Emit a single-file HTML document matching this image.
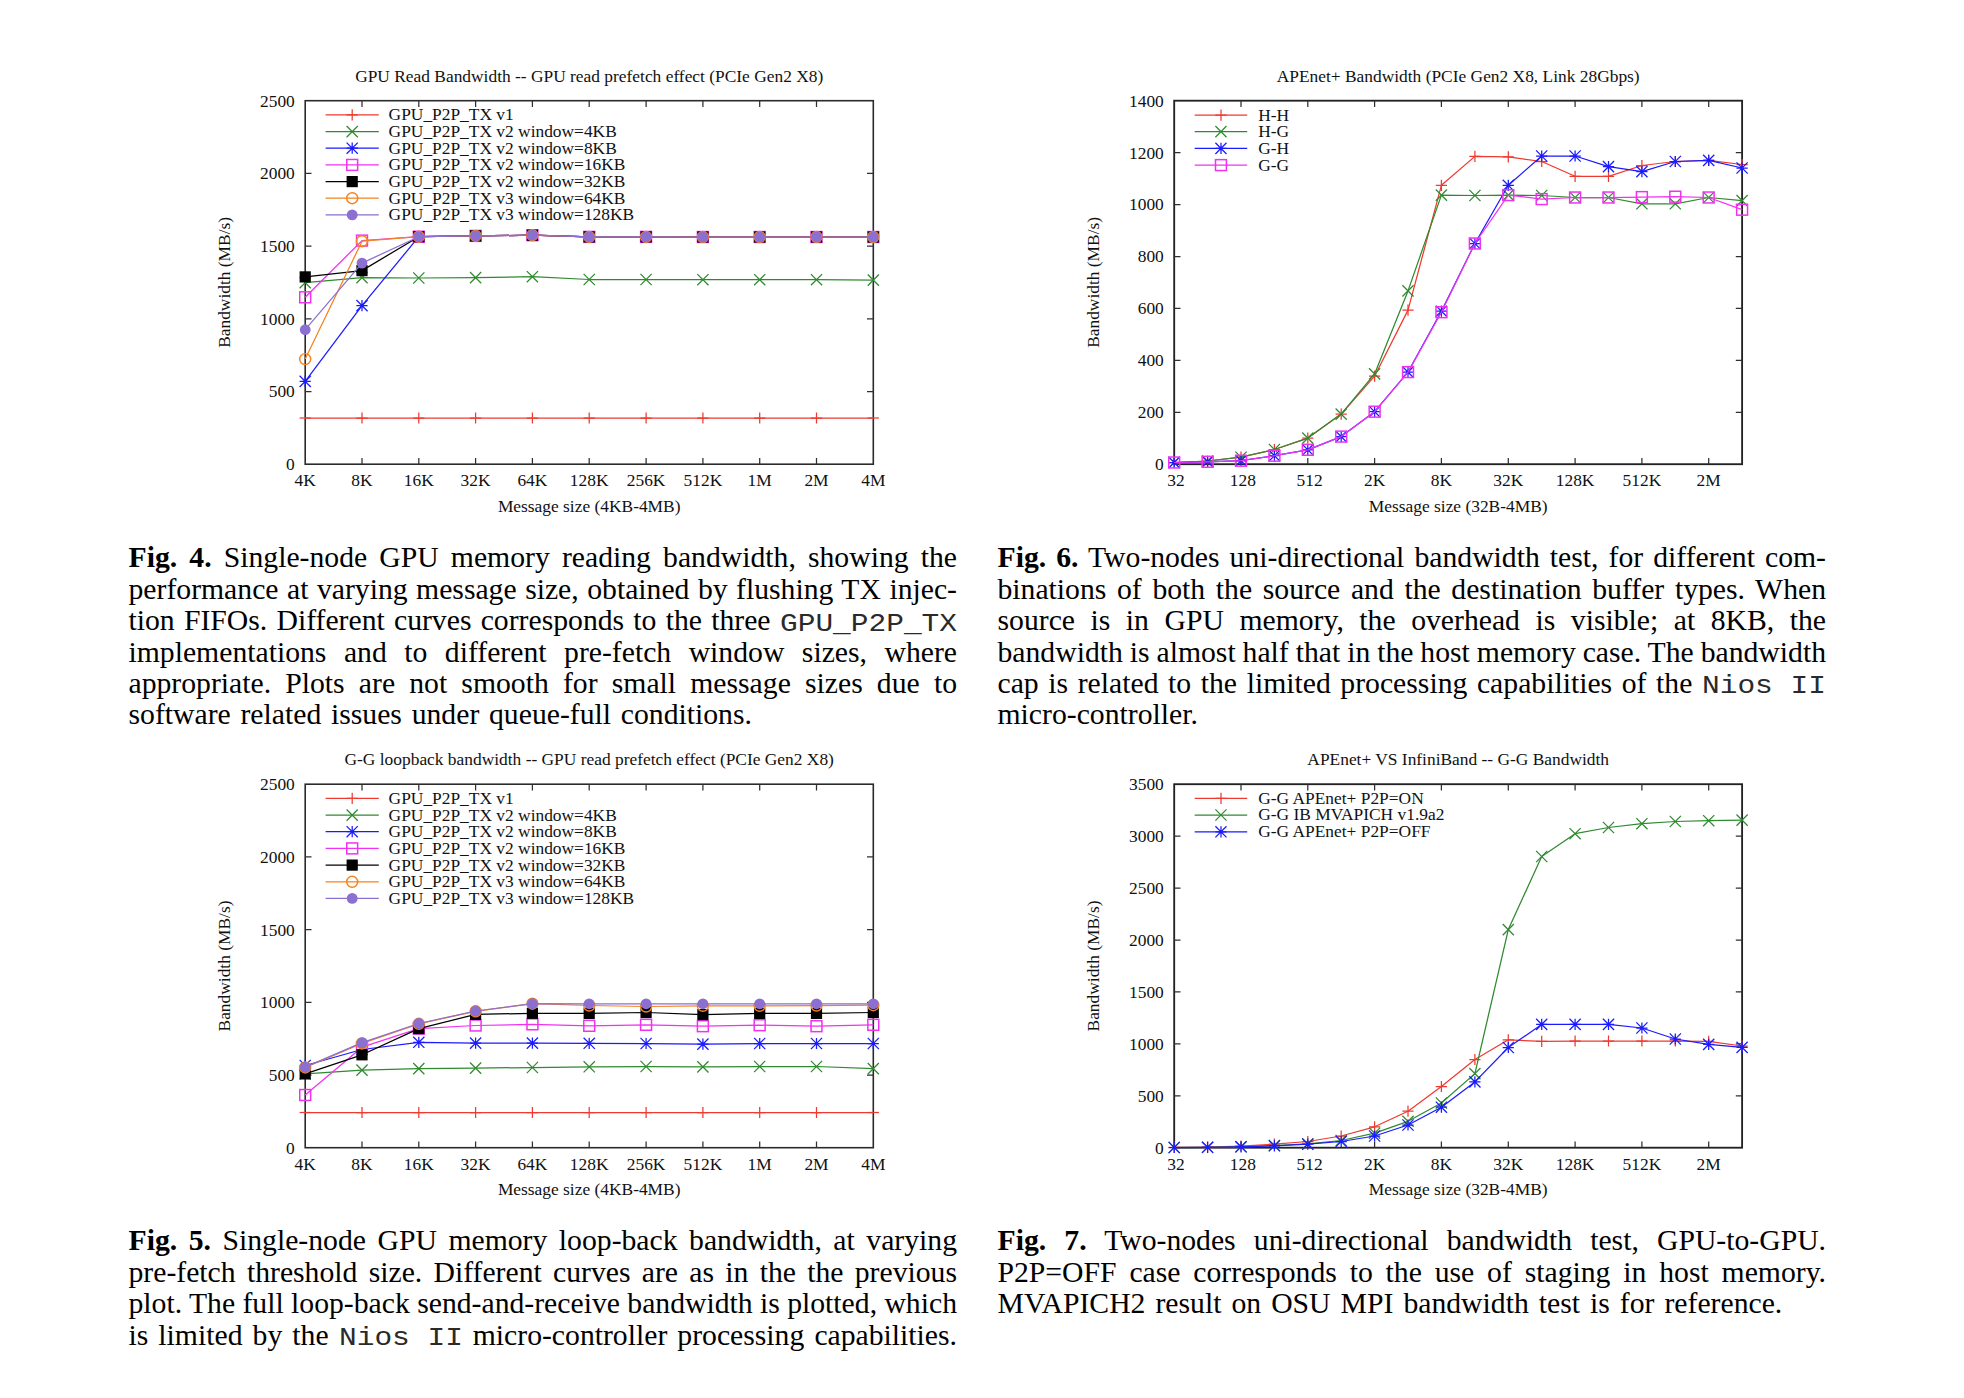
<!DOCTYPE html><html><head><meta charset="utf-8"><title>Figures</title><style>
html,body{margin:0;padding:0;background:#fff}
body{width:1964px;height:1398px;position:relative;overflow:hidden;font-family:"Liberation Serif",serif;color:#000}
.ln{position:absolute;height:31.44px;line-height:31.44px;font-size:29.7px;white-space:nowrap}
.ln tt{font-family:"Liberation Mono",monospace;font-size:25px;display:inline-block;transform:scaleX(1.18);transform-origin:0 50%;color:#2a2a2a;word-spacing:0;line-height:1;position:relative;top:0.5px}
.ln tt.a{margin-right:27.2px}
.ln tt.b{margin-right:19px}

</style></head><body>
<svg width="1964" height="1398" viewBox="0 0 1964 1398" style="position:absolute;left:0;top:0" font-family="'Liberation Serif',serif" fill="#111">
<rect x="305.2" y="100.7" width="568.0999999999999" height="363.5" fill="none" stroke="#2b2b2b" stroke-width="1.6"/>
<path d="M362.0 464.2v-6.3M362.0 100.7v6.3M418.8 464.2v-6.3M418.8 100.7v6.3M475.6 464.2v-6.3M475.6 100.7v6.3M532.4 464.2v-6.3M532.4 100.7v6.3M589.2 464.2v-6.3M589.2 100.7v6.3M646.1 464.2v-6.3M646.1 100.7v6.3M702.9 464.2v-6.3M702.9 100.7v6.3M759.7 464.2v-6.3M759.7 100.7v6.3M816.5 464.2v-6.3M816.5 100.7v6.3M305.2 391.5h6.3M873.3 391.5h-6.3M305.2 318.8h6.3M873.3 318.8h-6.3M305.2 246.1h6.3M873.3 246.1h-6.3M305.2 173.4h6.3M873.3 173.4h-6.3" stroke="#303030" stroke-width="1.25" fill="none"/>
<text x="305.2" y="486.4" text-anchor="middle" font-size="17.4" >4K</text>
<text x="362.0" y="486.4" text-anchor="middle" font-size="17.4" >8K</text>
<text x="418.8" y="486.4" text-anchor="middle" font-size="17.4" >16K</text>
<text x="475.6" y="486.4" text-anchor="middle" font-size="17.4" >32K</text>
<text x="532.4" y="486.4" text-anchor="middle" font-size="17.4" >64K</text>
<text x="589.2" y="486.4" text-anchor="middle" font-size="17.4" >128K</text>
<text x="646.1" y="486.4" text-anchor="middle" font-size="17.4" >256K</text>
<text x="702.9" y="486.4" text-anchor="middle" font-size="17.4" >512K</text>
<text x="759.7" y="486.4" text-anchor="middle" font-size="17.4" >1M</text>
<text x="816.5" y="486.4" text-anchor="middle" font-size="17.4" >2M</text>
<text x="873.3" y="486.4" text-anchor="middle" font-size="17.4" >4M</text>
<text x="294.8" y="470.1" text-anchor="end" font-size="17.4" >0</text>
<text x="294.8" y="397.4" text-anchor="end" font-size="17.4" >500</text>
<text x="294.8" y="324.6" text-anchor="end" font-size="17.4" >1000</text>
<text x="294.8" y="251.9" text-anchor="end" font-size="17.4" >1500</text>
<text x="294.8" y="179.2" text-anchor="end" font-size="17.4" >2000</text>
<text x="294.8" y="106.5" text-anchor="end" font-size="17.4" >2500</text>
<text x="589.2" y="81.7" text-anchor="middle" font-size="17.4" >GPU Read Bandwidth -- GPU read prefetch effect (PCIe Gen2 X8)</text>
<text x="589.2" y="511.7" text-anchor="middle" font-size="17.4" >Message size (4KB-4MB)</text>
<text transform="translate(229.5,282.4) rotate(-90)" text-anchor="middle" font-size="17.4">Bandwidth (MB/s)</text>
<polyline points="305.2,418.0 362.0,418.0 418.8,418.0 475.6,418.0 532.4,418.0 589.2,418.0 646.1,418.0 702.9,418.0 759.7,418.0 816.5,418.0 873.3,418.0" fill="none" stroke="#ee3a30" stroke-width="1.25" stroke-linejoin="round"/>
<path d="M299.6 418.0H310.8" stroke="#ee3a30" stroke-width="1.25" fill="none"/>
<path d="M356.4 418.0H367.6M362.0 412.4V423.6" stroke="#ee3a30" stroke-width="1.25" fill="none"/>
<path d="M413.2 418.0H424.4M418.8 412.4V423.6" stroke="#ee3a30" stroke-width="1.25" fill="none"/>
<path d="M470.0 418.0H481.2M475.6 412.4V423.6" stroke="#ee3a30" stroke-width="1.25" fill="none"/>
<path d="M526.8 418.0H538.0M532.4 412.4V423.6" stroke="#ee3a30" stroke-width="1.25" fill="none"/>
<path d="M583.6 418.0H594.9M589.2 412.4V423.6" stroke="#ee3a30" stroke-width="1.25" fill="none"/>
<path d="M640.5 418.0H651.7M646.1 412.4V423.6" stroke="#ee3a30" stroke-width="1.25" fill="none"/>
<path d="M697.3 418.0H708.5M702.9 412.4V423.6" stroke="#ee3a30" stroke-width="1.25" fill="none"/>
<path d="M754.1 418.0H765.3M759.7 412.4V423.6" stroke="#ee3a30" stroke-width="1.25" fill="none"/>
<path d="M810.9 418.0H822.1M816.5 412.4V423.6" stroke="#ee3a30" stroke-width="1.25" fill="none"/>
<path d="M867.7 418.0H878.9" stroke="#ee3a30" stroke-width="1.25" fill="none"/>
<polyline points="305.2,282.7 362.0,277.6 418.8,278.0 475.6,277.6 532.4,276.7 589.2,279.5 646.1,279.5 702.9,279.7 759.7,279.7 816.5,279.7 873.3,280.1" fill="none" stroke="#2f8a2f" stroke-width="1.25" stroke-linejoin="round"/>
<path d="M299.6 277.1L310.8 288.3M299.6 288.3L310.8 277.1" stroke="#2f8a2f" stroke-width="1.25" fill="none"/>
<path d="M356.4 272.0L367.6 283.2M356.4 283.2L367.6 272.0" stroke="#2f8a2f" stroke-width="1.25" fill="none"/>
<path d="M413.2 272.4L424.4 283.6M413.2 283.6L424.4 272.4" stroke="#2f8a2f" stroke-width="1.25" fill="none"/>
<path d="M470.0 272.0L481.2 283.2M470.0 283.2L481.2 272.0" stroke="#2f8a2f" stroke-width="1.25" fill="none"/>
<path d="M526.8 271.1L538.0 282.3M526.8 282.3L538.0 271.1" stroke="#2f8a2f" stroke-width="1.25" fill="none"/>
<path d="M583.6 273.9L594.9 285.1M583.6 285.1L594.9 273.9" stroke="#2f8a2f" stroke-width="1.25" fill="none"/>
<path d="M640.5 273.9L651.7 285.1M640.5 285.1L651.7 273.9" stroke="#2f8a2f" stroke-width="1.25" fill="none"/>
<path d="M697.3 274.1L708.5 285.3M697.3 285.3L708.5 274.1" stroke="#2f8a2f" stroke-width="1.25" fill="none"/>
<path d="M754.1 274.1L765.3 285.3M754.1 285.3L765.3 274.1" stroke="#2f8a2f" stroke-width="1.25" fill="none"/>
<path d="M810.9 274.1L822.1 285.3M810.9 285.3L822.1 274.1" stroke="#2f8a2f" stroke-width="1.25" fill="none"/>
<path d="M867.7 274.5L878.9 285.7M867.7 285.7L878.9 274.5" stroke="#2f8a2f" stroke-width="1.25" fill="none"/>
<polyline points="305.2,381.4 362.0,305.6 418.8,236.7 475.6,235.9 532.4,235.2 589.2,236.9 646.1,236.9 702.9,237.0 759.7,237.0 816.5,237.0 873.3,237.0" fill="none" stroke="#1a1aff" stroke-width="1.25" stroke-linejoin="round"/>
<path d="M299.6 381.4H310.8M305.2 375.8V387.0M299.6 375.8L310.8 387.0M299.6 387.0L310.8 375.8" stroke="#1a1aff" stroke-width="1.25" fill="none"/>
<path d="M356.4 305.6H367.6M362.0 300.0V311.2M356.4 300.0L367.6 311.2M356.4 311.2L367.6 300.0" stroke="#1a1aff" stroke-width="1.25" fill="none"/>
<path d="M413.2 236.7H424.4M418.8 231.1V242.3M413.2 231.1L424.4 242.3M413.2 242.3L424.4 231.1" stroke="#1a1aff" stroke-width="1.25" fill="none"/>
<path d="M470.0 235.9H481.2M475.6 230.3V241.5M470.0 230.3L481.2 241.5M470.0 241.5L481.2 230.3" stroke="#1a1aff" stroke-width="1.25" fill="none"/>
<path d="M526.8 235.2H538.0M532.4 229.6V240.8M526.8 229.6L538.0 240.8M526.8 240.8L538.0 229.6" stroke="#1a1aff" stroke-width="1.25" fill="none"/>
<path d="M583.6 236.9H594.9M589.2 231.3V242.5M583.6 231.3L594.9 242.5M583.6 242.5L594.9 231.3" stroke="#1a1aff" stroke-width="1.25" fill="none"/>
<path d="M640.5 236.9H651.7M646.1 231.3V242.5M640.5 231.3L651.7 242.5M640.5 242.5L651.7 231.3" stroke="#1a1aff" stroke-width="1.25" fill="none"/>
<path d="M697.3 237.0H708.5M702.9 231.4V242.6M697.3 231.4L708.5 242.6M697.3 242.6L708.5 231.4" stroke="#1a1aff" stroke-width="1.25" fill="none"/>
<path d="M754.1 237.0H765.3M759.7 231.4V242.6M754.1 231.4L765.3 242.6M754.1 242.6L765.3 231.4" stroke="#1a1aff" stroke-width="1.25" fill="none"/>
<path d="M810.9 237.0H822.1M816.5 231.4V242.6M810.9 231.4L822.1 242.6M810.9 242.6L822.1 231.4" stroke="#1a1aff" stroke-width="1.25" fill="none"/>
<path d="M867.7 237.0H878.9M873.3 231.4V242.6M867.7 231.4L878.9 242.6M867.7 242.6L878.9 231.4" stroke="#1a1aff" stroke-width="1.25" fill="none"/>
<polyline points="305.2,297.3 362.0,240.6 418.8,236.7 475.6,235.9 532.4,235.2 589.2,236.9 646.1,236.9 702.9,237.0 759.7,237.0 816.5,237.0 873.3,237.0" fill="none" stroke="#f032f0" stroke-width="1.25" stroke-linejoin="round"/>
<rect x="299.75" y="291.85" width="10.9" height="10.9" stroke="#f032f0" stroke-width="1.5" fill="none"/>
<rect x="356.56" y="235.15" width="10.9" height="10.9" stroke="#f032f0" stroke-width="1.5" fill="none"/>
<rect x="413.37" y="231.25" width="10.9" height="10.9" stroke="#f032f0" stroke-width="1.5" fill="none"/>
<rect x="470.18" y="230.45" width="10.9" height="10.9" stroke="#f032f0" stroke-width="1.5" fill="none"/>
<rect x="526.99" y="229.75" width="10.9" height="10.9" stroke="#f032f0" stroke-width="1.5" fill="none"/>
<rect x="583.80" y="231.45" width="10.9" height="10.9" stroke="#f032f0" stroke-width="1.5" fill="none"/>
<rect x="640.61" y="231.45" width="10.9" height="10.9" stroke="#f032f0" stroke-width="1.5" fill="none"/>
<rect x="697.42" y="231.55" width="10.9" height="10.9" stroke="#f032f0" stroke-width="1.5" fill="none"/>
<rect x="754.23" y="231.55" width="10.9" height="10.9" stroke="#f032f0" stroke-width="1.5" fill="none"/>
<rect x="811.04" y="231.55" width="10.9" height="10.9" stroke="#f032f0" stroke-width="1.5" fill="none"/>
<rect x="867.85" y="231.55" width="10.9" height="10.9" stroke="#f032f0" stroke-width="1.5" fill="none"/>
<polyline points="305.2,276.9 362.0,270.6 418.8,236.7 475.6,235.9 532.4,235.2 589.2,236.9 646.1,236.9 702.9,237.0 759.7,237.0 816.5,237.0 873.3,237.0" fill="none" stroke="#000000" stroke-width="1.25" stroke-linejoin="round"/>
<rect x="299.6" y="271.3" width="11.2" height="11.2" fill="#000000"/>
<rect x="356.4" y="265.0" width="11.2" height="11.2" fill="#000000"/>
<rect x="413.2" y="231.1" width="11.2" height="11.2" fill="#000000"/>
<rect x="470.0" y="230.3" width="11.2" height="11.2" fill="#000000"/>
<rect x="526.8" y="229.6" width="11.2" height="11.2" fill="#000000"/>
<rect x="583.6" y="231.3" width="11.2" height="11.2" fill="#000000"/>
<rect x="640.5" y="231.3" width="11.2" height="11.2" fill="#000000"/>
<rect x="697.3" y="231.4" width="11.2" height="11.2" fill="#000000"/>
<rect x="754.1" y="231.4" width="11.2" height="11.2" fill="#000000"/>
<rect x="810.9" y="231.4" width="11.2" height="11.2" fill="#000000"/>
<rect x="867.7" y="231.4" width="11.2" height="11.2" fill="#000000"/>
<polyline points="305.2,359.1 362.0,241.2 418.8,236.7 475.6,235.9 532.4,235.2 589.2,236.9 646.1,236.9 702.9,237.0 759.7,237.0 816.5,237.0 873.3,237.0" fill="none" stroke="#f5821f" stroke-width="1.25" stroke-linejoin="round"/>
<circle cx="305.2" cy="359.1" r="5.5" stroke="#f5821f" stroke-width="1.45" fill="none"/>
<circle cx="362.0" cy="241.2" r="5.5" stroke="#f5821f" stroke-width="1.45" fill="none"/>
<circle cx="418.8" cy="236.7" r="5.5" stroke="#f5821f" stroke-width="1.45" fill="none"/>
<circle cx="475.6" cy="235.9" r="5.5" stroke="#f5821f" stroke-width="1.45" fill="none"/>
<circle cx="532.4" cy="235.2" r="5.5" stroke="#f5821f" stroke-width="1.45" fill="none"/>
<circle cx="589.2" cy="236.9" r="5.5" stroke="#f5821f" stroke-width="1.45" fill="none"/>
<circle cx="646.1" cy="236.9" r="5.5" stroke="#f5821f" stroke-width="1.45" fill="none"/>
<circle cx="702.9" cy="237.0" r="5.5" stroke="#f5821f" stroke-width="1.45" fill="none"/>
<circle cx="759.7" cy="237.0" r="5.5" stroke="#f5821f" stroke-width="1.45" fill="none"/>
<circle cx="816.5" cy="237.0" r="5.5" stroke="#f5821f" stroke-width="1.45" fill="none"/>
<circle cx="873.3" cy="237.0" r="5.5" stroke="#f5821f" stroke-width="1.45" fill="none"/>
<polyline points="305.2,329.7 362.0,263.1 418.8,236.7 475.6,235.9 532.4,235.2 589.2,236.9 646.1,236.9 702.9,237.0 759.7,237.0 816.5,237.0 873.3,237.0" fill="none" stroke="#8b6fd1" stroke-width="1.25" stroke-linejoin="round"/>
<circle cx="305.2" cy="329.7" r="5.4" fill="#8b6fd1"/>
<circle cx="362.0" cy="263.1" r="5.4" fill="#8b6fd1"/>
<circle cx="418.8" cy="236.7" r="5.4" fill="#8b6fd1"/>
<circle cx="475.6" cy="235.9" r="5.4" fill="#8b6fd1"/>
<circle cx="532.4" cy="235.2" r="5.4" fill="#8b6fd1"/>
<circle cx="589.2" cy="236.9" r="5.4" fill="#8b6fd1"/>
<circle cx="646.1" cy="236.9" r="5.4" fill="#8b6fd1"/>
<circle cx="702.9" cy="237.0" r="5.4" fill="#8b6fd1"/>
<circle cx="759.7" cy="237.0" r="5.4" fill="#8b6fd1"/>
<circle cx="816.5" cy="237.0" r="5.4" fill="#8b6fd1"/>
<circle cx="873.3" cy="237.0" r="5.4" fill="#8b6fd1"/>
<path d="M325.6 114.9H378.8" stroke="#ee3a30" stroke-width="1.25"/>
<path d="M346.6 114.9H357.8M352.2 109.3V120.5" stroke="#ee3a30" stroke-width="1.25" fill="none"/>
<text x="388.6" y="120.3" text-anchor="start" font-size="17.4" >GPU_P2P_TX v1</text>
<path d="M325.6 131.6H378.8" stroke="#2f8a2f" stroke-width="1.25"/>
<path d="M346.6 126.0L357.8 137.2M346.6 137.2L357.8 126.0" stroke="#2f8a2f" stroke-width="1.25" fill="none"/>
<text x="388.6" y="137.0" text-anchor="start" font-size="17.4" >GPU_P2P_TX v2 window=4KB</text>
<path d="M325.6 148.2H378.8" stroke="#1a1aff" stroke-width="1.25"/>
<path d="M346.6 148.2H357.8M352.2 142.6V153.8M346.6 142.6L357.8 153.8M346.6 153.8L357.8 142.6" stroke="#1a1aff" stroke-width="1.25" fill="none"/>
<text x="388.6" y="153.6" text-anchor="start" font-size="17.4" >GPU_P2P_TX v2 window=8KB</text>
<path d="M325.6 164.9H378.8" stroke="#f032f0" stroke-width="1.25"/>
<rect x="346.75" y="159.46" width="10.9" height="10.9" stroke="#f032f0" stroke-width="1.5" fill="none"/>
<text x="388.6" y="170.3" text-anchor="start" font-size="17.4" >GPU_P2P_TX v2 window=16KB</text>
<path d="M325.6 181.6H378.8" stroke="#000000" stroke-width="1.25"/>
<rect x="346.6" y="176.0" width="11.2" height="11.2" fill="#000000"/>
<text x="388.6" y="187.0" text-anchor="start" font-size="17.4" >GPU_P2P_TX v2 window=32KB</text>
<path d="M325.6 198.2H378.8" stroke="#f5821f" stroke-width="1.25"/>
<circle cx="352.2" cy="198.2" r="5.5" stroke="#f5821f" stroke-width="1.45" fill="none"/>
<text x="388.6" y="203.7" text-anchor="start" font-size="17.4" >GPU_P2P_TX v3 window=64KB</text>
<path d="M325.6 214.9H378.8" stroke="#8b6fd1" stroke-width="1.25"/>
<circle cx="352.2" cy="214.9" r="5.4" fill="#8b6fd1"/>
<text x="388.6" y="220.3" text-anchor="start" font-size="17.4" >GPU_P2P_TX v3 window=128KB</text>
<rect x="305.2" y="784.2" width="568.0999999999999" height="363.5" fill="none" stroke="#2b2b2b" stroke-width="1.6"/>
<path d="M362.0 1147.7v-6.3M362.0 784.2v6.3M418.8 1147.7v-6.3M418.8 784.2v6.3M475.6 1147.7v-6.3M475.6 784.2v6.3M532.4 1147.7v-6.3M532.4 784.2v6.3M589.2 1147.7v-6.3M589.2 784.2v6.3M646.1 1147.7v-6.3M646.1 784.2v6.3M702.9 1147.7v-6.3M702.9 784.2v6.3M759.7 1147.7v-6.3M759.7 784.2v6.3M816.5 1147.7v-6.3M816.5 784.2v6.3M305.2 1075.0h6.3M873.3 1075.0h-6.3M305.2 1002.3h6.3M873.3 1002.3h-6.3M305.2 929.6h6.3M873.3 929.6h-6.3M305.2 856.9h6.3M873.3 856.9h-6.3" stroke="#303030" stroke-width="1.25" fill="none"/>
<text x="305.2" y="1169.9" text-anchor="middle" font-size="17.4" >4K</text>
<text x="362.0" y="1169.9" text-anchor="middle" font-size="17.4" >8K</text>
<text x="418.8" y="1169.9" text-anchor="middle" font-size="17.4" >16K</text>
<text x="475.6" y="1169.9" text-anchor="middle" font-size="17.4" >32K</text>
<text x="532.4" y="1169.9" text-anchor="middle" font-size="17.4" >64K</text>
<text x="589.2" y="1169.9" text-anchor="middle" font-size="17.4" >128K</text>
<text x="646.1" y="1169.9" text-anchor="middle" font-size="17.4" >256K</text>
<text x="702.9" y="1169.9" text-anchor="middle" font-size="17.4" >512K</text>
<text x="759.7" y="1169.9" text-anchor="middle" font-size="17.4" >1M</text>
<text x="816.5" y="1169.9" text-anchor="middle" font-size="17.4" >2M</text>
<text x="873.3" y="1169.9" text-anchor="middle" font-size="17.4" >4M</text>
<text x="294.8" y="1153.5" text-anchor="end" font-size="17.4" >0</text>
<text x="294.8" y="1080.8" text-anchor="end" font-size="17.4" >500</text>
<text x="294.8" y="1008.2" text-anchor="end" font-size="17.4" >1000</text>
<text x="294.8" y="935.5" text-anchor="end" font-size="17.4" >1500</text>
<text x="294.8" y="862.8" text-anchor="end" font-size="17.4" >2000</text>
<text x="294.8" y="790.1" text-anchor="end" font-size="17.4" >2500</text>
<text x="589.2" y="765.2" text-anchor="middle" font-size="17.4" >G-G loopback bandwidth -- GPU read prefetch effect (PCIe Gen2 X8)</text>
<text x="589.2" y="1195.2" text-anchor="middle" font-size="17.4" >Message size (4KB-4MB)</text>
<text transform="translate(229.5,966.0) rotate(-90)" text-anchor="middle" font-size="17.4">Bandwidth (MB/s)</text>
<polyline points="305.2,1112.5 362.0,1112.5 418.8,1112.5 475.6,1112.5 532.4,1112.5 589.2,1112.5 646.1,1112.5 702.9,1112.5 759.7,1112.5 816.5,1112.5 873.3,1112.5" fill="none" stroke="#ee3a30" stroke-width="1.25" stroke-linejoin="round"/>
<path d="M299.6 1112.5H310.8" stroke="#ee3a30" stroke-width="1.25" fill="none"/>
<path d="M356.4 1112.5H367.6M362.0 1106.9V1118.1" stroke="#ee3a30" stroke-width="1.25" fill="none"/>
<path d="M413.2 1112.5H424.4M418.8 1106.9V1118.1" stroke="#ee3a30" stroke-width="1.25" fill="none"/>
<path d="M470.0 1112.5H481.2M475.6 1106.9V1118.1" stroke="#ee3a30" stroke-width="1.25" fill="none"/>
<path d="M526.8 1112.5H538.0M532.4 1106.9V1118.1" stroke="#ee3a30" stroke-width="1.25" fill="none"/>
<path d="M583.6 1112.5H594.9M589.2 1106.9V1118.1" stroke="#ee3a30" stroke-width="1.25" fill="none"/>
<path d="M640.5 1112.5H651.7M646.1 1106.9V1118.1" stroke="#ee3a30" stroke-width="1.25" fill="none"/>
<path d="M697.3 1112.5H708.5M702.9 1106.9V1118.1" stroke="#ee3a30" stroke-width="1.25" fill="none"/>
<path d="M754.1 1112.5H765.3M759.7 1106.9V1118.1" stroke="#ee3a30" stroke-width="1.25" fill="none"/>
<path d="M810.9 1112.5H822.1M816.5 1106.9V1118.1" stroke="#ee3a30" stroke-width="1.25" fill="none"/>
<path d="M867.7 1112.5H878.9" stroke="#ee3a30" stroke-width="1.25" fill="none"/>
<polyline points="305.2,1073.9 362.0,1070.1 418.8,1068.6 475.6,1068.1 532.4,1067.5 589.2,1066.8 646.1,1066.5 702.9,1066.9 759.7,1066.5 816.5,1066.5 873.3,1068.6" fill="none" stroke="#2f8a2f" stroke-width="1.25" stroke-linejoin="round"/>
<path d="M299.6 1068.3L310.8 1079.5M299.6 1079.5L310.8 1068.3" stroke="#2f8a2f" stroke-width="1.25" fill="none"/>
<path d="M356.4 1064.5L367.6 1075.7M356.4 1075.7L367.6 1064.5" stroke="#2f8a2f" stroke-width="1.25" fill="none"/>
<path d="M413.2 1063.0L424.4 1074.2M413.2 1074.2L424.4 1063.0" stroke="#2f8a2f" stroke-width="1.25" fill="none"/>
<path d="M470.0 1062.5L481.2 1073.7M470.0 1073.7L481.2 1062.5" stroke="#2f8a2f" stroke-width="1.25" fill="none"/>
<path d="M526.8 1061.9L538.0 1073.1M526.8 1073.1L538.0 1061.9" stroke="#2f8a2f" stroke-width="1.25" fill="none"/>
<path d="M583.6 1061.2L594.9 1072.4M583.6 1072.4L594.9 1061.2" stroke="#2f8a2f" stroke-width="1.25" fill="none"/>
<path d="M640.5 1060.9L651.7 1072.1M640.5 1072.1L651.7 1060.9" stroke="#2f8a2f" stroke-width="1.25" fill="none"/>
<path d="M697.3 1061.3L708.5 1072.5M697.3 1072.5L708.5 1061.3" stroke="#2f8a2f" stroke-width="1.25" fill="none"/>
<path d="M754.1 1060.9L765.3 1072.1M754.1 1072.1L765.3 1060.9" stroke="#2f8a2f" stroke-width="1.25" fill="none"/>
<path d="M810.9 1060.9L822.1 1072.1M810.9 1072.1L822.1 1060.9" stroke="#2f8a2f" stroke-width="1.25" fill="none"/>
<path d="M867.7 1063.0L878.9 1074.2M867.7 1074.2L878.9 1063.0" stroke="#2f8a2f" stroke-width="1.25" fill="none"/>
<polyline points="305.2,1065.5 362.0,1049.5 418.8,1042.3 475.6,1043.1 532.4,1043.1 589.2,1043.3 646.1,1043.5 702.9,1044.1 759.7,1043.5 816.5,1043.5 873.3,1043.5" fill="none" stroke="#1a1aff" stroke-width="1.25" stroke-linejoin="round"/>
<path d="M299.6 1065.5H310.8M305.2 1059.9V1071.1M299.6 1059.9L310.8 1071.1M299.6 1071.1L310.8 1059.9" stroke="#1a1aff" stroke-width="1.25" fill="none"/>
<path d="M356.4 1049.5H367.6M362.0 1043.9V1055.1M356.4 1043.9L367.6 1055.1M356.4 1055.1L367.6 1043.9" stroke="#1a1aff" stroke-width="1.25" fill="none"/>
<path d="M413.2 1042.3H424.4M418.8 1036.7V1047.9M413.2 1036.7L424.4 1047.9M413.2 1047.9L424.4 1036.7" stroke="#1a1aff" stroke-width="1.25" fill="none"/>
<path d="M470.0 1043.1H481.2M475.6 1037.5V1048.7M470.0 1037.5L481.2 1048.7M470.0 1048.7L481.2 1037.5" stroke="#1a1aff" stroke-width="1.25" fill="none"/>
<path d="M526.8 1043.1H538.0M532.4 1037.5V1048.7M526.8 1037.5L538.0 1048.7M526.8 1048.7L538.0 1037.5" stroke="#1a1aff" stroke-width="1.25" fill="none"/>
<path d="M583.6 1043.3H594.9M589.2 1037.7V1048.9M583.6 1037.7L594.9 1048.9M583.6 1048.9L594.9 1037.7" stroke="#1a1aff" stroke-width="1.25" fill="none"/>
<path d="M640.5 1043.5H651.7M646.1 1037.9V1049.1M640.5 1037.9L651.7 1049.1M640.5 1049.1L651.7 1037.9" stroke="#1a1aff" stroke-width="1.25" fill="none"/>
<path d="M697.3 1044.1H708.5M702.9 1038.5V1049.7M697.3 1038.5L708.5 1049.7M697.3 1049.7L708.5 1038.5" stroke="#1a1aff" stroke-width="1.25" fill="none"/>
<path d="M754.1 1043.5H765.3M759.7 1037.9V1049.1M754.1 1037.9L765.3 1049.1M754.1 1049.1L765.3 1037.9" stroke="#1a1aff" stroke-width="1.25" fill="none"/>
<path d="M810.9 1043.5H822.1M816.5 1037.9V1049.1M810.9 1037.9L822.1 1049.1M810.9 1049.1L822.1 1037.9" stroke="#1a1aff" stroke-width="1.25" fill="none"/>
<path d="M867.7 1043.5H878.9M873.3 1037.9V1049.1M867.7 1037.9L878.9 1049.1M867.7 1049.1L878.9 1037.9" stroke="#1a1aff" stroke-width="1.25" fill="none"/>
<polyline points="305.2,1095.0 362.0,1047.2 418.8,1028.6 475.6,1025.5 532.4,1024.3 589.2,1025.8 646.1,1024.8 702.9,1026.2 759.7,1025.2 816.5,1026.2 873.3,1024.8" fill="none" stroke="#f032f0" stroke-width="1.25" stroke-linejoin="round"/>
<rect x="299.75" y="1089.55" width="10.9" height="10.9" stroke="#f032f0" stroke-width="1.5" fill="none"/>
<rect x="356.56" y="1041.75" width="10.9" height="10.9" stroke="#f032f0" stroke-width="1.5" fill="none"/>
<rect x="413.37" y="1023.15" width="10.9" height="10.9" stroke="#f032f0" stroke-width="1.5" fill="none"/>
<rect x="470.18" y="1020.05" width="10.9" height="10.9" stroke="#f032f0" stroke-width="1.5" fill="none"/>
<rect x="526.99" y="1018.85" width="10.9" height="10.9" stroke="#f032f0" stroke-width="1.5" fill="none"/>
<rect x="583.80" y="1020.35" width="10.9" height="10.9" stroke="#f032f0" stroke-width="1.5" fill="none"/>
<rect x="640.61" y="1019.35" width="10.9" height="10.9" stroke="#f032f0" stroke-width="1.5" fill="none"/>
<rect x="697.42" y="1020.75" width="10.9" height="10.9" stroke="#f032f0" stroke-width="1.5" fill="none"/>
<rect x="754.23" y="1019.75" width="10.9" height="10.9" stroke="#f032f0" stroke-width="1.5" fill="none"/>
<rect x="811.04" y="1020.75" width="10.9" height="10.9" stroke="#f032f0" stroke-width="1.5" fill="none"/>
<rect x="867.85" y="1019.35" width="10.9" height="10.9" stroke="#f032f0" stroke-width="1.5" fill="none"/>
<polyline points="305.2,1073.9 362.0,1054.8 418.8,1028.6 475.6,1014.4 532.4,1013.3 589.2,1013.4 646.1,1012.5 702.9,1014.6 759.7,1013.4 816.5,1013.4 873.3,1012.5" fill="none" stroke="#000000" stroke-width="1.25" stroke-linejoin="round"/>
<rect x="299.6" y="1068.3" width="11.2" height="11.2" fill="#000000"/>
<rect x="356.4" y="1049.2" width="11.2" height="11.2" fill="#000000"/>
<rect x="413.2" y="1023.0" width="11.2" height="11.2" fill="#000000"/>
<rect x="470.0" y="1008.8" width="11.2" height="11.2" fill="#000000"/>
<rect x="526.8" y="1007.7" width="11.2" height="11.2" fill="#000000"/>
<rect x="583.6" y="1007.8" width="11.2" height="11.2" fill="#000000"/>
<rect x="640.5" y="1006.9" width="11.2" height="11.2" fill="#000000"/>
<rect x="697.3" y="1009.0" width="11.2" height="11.2" fill="#000000"/>
<rect x="754.1" y="1007.8" width="11.2" height="11.2" fill="#000000"/>
<rect x="810.9" y="1007.8" width="11.2" height="11.2" fill="#000000"/>
<rect x="867.7" y="1006.9" width="11.2" height="11.2" fill="#000000"/>
<polyline points="305.2,1067.4 362.0,1043.4 418.8,1023.8 475.6,1011.3 532.4,1003.7 589.2,1005.5 646.1,1006.5 702.9,1005.8 759.7,1005.8 816.5,1005.5 873.3,1005.2" fill="none" stroke="#f5821f" stroke-width="1.25" stroke-linejoin="round"/>
<circle cx="305.2" cy="1067.4" r="5.5" stroke="#f5821f" stroke-width="1.45" fill="none"/>
<circle cx="362.0" cy="1043.4" r="5.5" stroke="#f5821f" stroke-width="1.45" fill="none"/>
<circle cx="418.8" cy="1023.8" r="5.5" stroke="#f5821f" stroke-width="1.45" fill="none"/>
<circle cx="475.6" cy="1011.3" r="5.5" stroke="#f5821f" stroke-width="1.45" fill="none"/>
<circle cx="532.4" cy="1003.7" r="5.5" stroke="#f5821f" stroke-width="1.45" fill="none"/>
<circle cx="589.2" cy="1005.5" r="5.5" stroke="#f5821f" stroke-width="1.45" fill="none"/>
<circle cx="646.1" cy="1006.5" r="5.5" stroke="#f5821f" stroke-width="1.45" fill="none"/>
<circle cx="702.9" cy="1005.8" r="5.5" stroke="#f5821f" stroke-width="1.45" fill="none"/>
<circle cx="759.7" cy="1005.8" r="5.5" stroke="#f5821f" stroke-width="1.45" fill="none"/>
<circle cx="816.5" cy="1005.5" r="5.5" stroke="#f5821f" stroke-width="1.45" fill="none"/>
<circle cx="873.3" cy="1005.2" r="5.5" stroke="#f5821f" stroke-width="1.45" fill="none"/>
<polyline points="305.2,1067.1 362.0,1042.6 418.8,1023.5 475.6,1011.0 532.4,1003.7 589.2,1003.8 646.1,1003.8 702.9,1003.8 759.7,1003.8 816.5,1003.8 873.3,1003.8" fill="none" stroke="#8b6fd1" stroke-width="1.25" stroke-linejoin="round"/>
<circle cx="305.2" cy="1067.1" r="5.4" fill="#8b6fd1"/>
<circle cx="362.0" cy="1042.6" r="5.4" fill="#8b6fd1"/>
<circle cx="418.8" cy="1023.5" r="5.4" fill="#8b6fd1"/>
<circle cx="475.6" cy="1011.0" r="5.4" fill="#8b6fd1"/>
<circle cx="532.4" cy="1003.7" r="5.4" fill="#8b6fd1"/>
<circle cx="589.2" cy="1003.8" r="5.4" fill="#8b6fd1"/>
<circle cx="646.1" cy="1003.8" r="5.4" fill="#8b6fd1"/>
<circle cx="702.9" cy="1003.8" r="5.4" fill="#8b6fd1"/>
<circle cx="759.7" cy="1003.8" r="5.4" fill="#8b6fd1"/>
<circle cx="816.5" cy="1003.8" r="5.4" fill="#8b6fd1"/>
<circle cx="873.3" cy="1003.8" r="5.4" fill="#8b6fd1"/>
<path d="M325.6 798.4H378.8" stroke="#ee3a30" stroke-width="1.25"/>
<path d="M346.6 798.4H357.8M352.2 792.8V804.0" stroke="#ee3a30" stroke-width="1.25" fill="none"/>
<text x="388.6" y="803.8" text-anchor="start" font-size="17.4" >GPU_P2P_TX v1</text>
<path d="M325.6 815.1H378.8" stroke="#2f8a2f" stroke-width="1.25"/>
<path d="M346.6 809.5L357.8 820.7M346.6 820.7L357.8 809.5" stroke="#2f8a2f" stroke-width="1.25" fill="none"/>
<text x="388.6" y="820.5" text-anchor="start" font-size="17.4" >GPU_P2P_TX v2 window=4KB</text>
<path d="M325.6 831.7H378.8" stroke="#1a1aff" stroke-width="1.25"/>
<path d="M346.6 831.7H357.8M352.2 826.1V837.3M346.6 826.1L357.8 837.3M346.6 837.3L357.8 826.1" stroke="#1a1aff" stroke-width="1.25" fill="none"/>
<text x="388.6" y="837.1" text-anchor="start" font-size="17.4" >GPU_P2P_TX v2 window=8KB</text>
<path d="M325.6 848.4H378.8" stroke="#f032f0" stroke-width="1.25"/>
<rect x="346.75" y="842.96" width="10.9" height="10.9" stroke="#f032f0" stroke-width="1.5" fill="none"/>
<text x="388.6" y="853.8" text-anchor="start" font-size="17.4" >GPU_P2P_TX v2 window=16KB</text>
<path d="M325.6 865.1H378.8" stroke="#000000" stroke-width="1.25"/>
<rect x="346.6" y="859.5" width="11.2" height="11.2" fill="#000000"/>
<text x="388.6" y="870.5" text-anchor="start" font-size="17.4" >GPU_P2P_TX v2 window=32KB</text>
<path d="M325.6 881.8H378.8" stroke="#f5821f" stroke-width="1.25"/>
<circle cx="352.2" cy="881.8" r="5.5" stroke="#f5821f" stroke-width="1.45" fill="none"/>
<text x="388.6" y="887.1" text-anchor="start" font-size="17.4" >GPU_P2P_TX v3 window=64KB</text>
<path d="M325.6 898.4H378.8" stroke="#8b6fd1" stroke-width="1.25"/>
<circle cx="352.2" cy="898.4" r="5.4" fill="#8b6fd1"/>
<text x="388.6" y="903.8" text-anchor="start" font-size="17.4" >GPU_P2P_TX v3 window=128KB</text>
<rect x="1174.2" y="100.7" width="567.8999999999999" height="363.5" fill="none" stroke="#222222" stroke-width="1.85"/>
<path d="M1241.0 464.2v-6.3M1241.0 100.7v6.3M1307.8 464.2v-6.3M1307.8 100.7v6.3M1374.6 464.2v-6.3M1374.6 100.7v6.3M1441.4 464.2v-6.3M1441.4 100.7v6.3M1508.3 464.2v-6.3M1508.3 100.7v6.3M1575.1 464.2v-6.3M1575.1 100.7v6.3M1641.9 464.2v-6.3M1641.9 100.7v6.3M1708.7 464.2v-6.3M1708.7 100.7v6.3M1174.2 412.3h6.3M1742.1 412.3h-6.3M1174.2 360.3h6.3M1742.1 360.3h-6.3M1174.2 308.4h6.3M1742.1 308.4h-6.3M1174.2 256.5h6.3M1742.1 256.5h-6.3M1174.2 204.6h6.3M1742.1 204.6h-6.3M1174.2 152.6h6.3M1742.1 152.6h-6.3" stroke="#303030" stroke-width="1.25" fill="none"/>
<text x="1176.0" y="486.4" text-anchor="middle" font-size="17.4" >32</text>
<text x="1242.8" y="486.4" text-anchor="middle" font-size="17.4" >128</text>
<text x="1309.6" y="486.4" text-anchor="middle" font-size="17.4" >512</text>
<text x="1374.6" y="486.4" text-anchor="middle" font-size="17.4" >2K</text>
<text x="1441.4" y="486.4" text-anchor="middle" font-size="17.4" >8K</text>
<text x="1508.3" y="486.4" text-anchor="middle" font-size="17.4" >32K</text>
<text x="1575.1" y="486.4" text-anchor="middle" font-size="17.4" >128K</text>
<text x="1641.9" y="486.4" text-anchor="middle" font-size="17.4" >512K</text>
<text x="1708.7" y="486.4" text-anchor="middle" font-size="17.4" >2M</text>
<text x="1163.8" y="470.1" text-anchor="end" font-size="17.4" >0</text>
<text x="1163.8" y="418.1" text-anchor="end" font-size="17.4" >200</text>
<text x="1163.8" y="366.2" text-anchor="end" font-size="17.4" >400</text>
<text x="1163.8" y="314.3" text-anchor="end" font-size="17.4" >600</text>
<text x="1163.8" y="262.3" text-anchor="end" font-size="17.4" >800</text>
<text x="1163.8" y="210.4" text-anchor="end" font-size="17.4" >1000</text>
<text x="1163.8" y="158.5" text-anchor="end" font-size="17.4" >1200</text>
<text x="1163.8" y="106.5" text-anchor="end" font-size="17.4" >1400</text>
<text x="1458.2" y="81.7" text-anchor="middle" font-size="17.4" >APEnet+ Bandwidth (PCIe Gen2 X8, Link 28Gbps)</text>
<text x="1458.2" y="511.7" text-anchor="middle" font-size="17.4" >Message size (32B-4MB)</text>
<text transform="translate(1098.5,282.4) rotate(-90)" text-anchor="middle" font-size="17.4">Bandwidth (MB/s)</text>
<polyline points="1174.2,462.5 1207.6,461.0 1241.0,457.2 1274.4,449.5 1307.8,438.1 1341.2,414.1 1374.6,376.2 1408.0,310.1 1441.4,185.3 1474.9,156.4 1508.3,156.8 1541.7,161.5 1575.1,176.3 1608.5,176.3 1641.9,165.5 1675.3,161.5 1708.7,160.4 1742.1,164.5" fill="none" stroke="#ee3a30" stroke-width="1.25" stroke-linejoin="round"/>
<path d="M1168.6 462.5H1179.8M1174.2 456.9V468.1" stroke="#ee3a30" stroke-width="1.25" fill="none"/>
<path d="M1202.0 461.0H1213.2M1207.6 455.4V466.6" stroke="#ee3a30" stroke-width="1.25" fill="none"/>
<path d="M1235.4 457.2H1246.6M1241.0 451.6V462.8" stroke="#ee3a30" stroke-width="1.25" fill="none"/>
<path d="M1268.8 449.5H1280.0M1274.4 443.9V455.1" stroke="#ee3a30" stroke-width="1.25" fill="none"/>
<path d="M1302.2 438.1H1313.4M1307.8 432.5V443.7" stroke="#ee3a30" stroke-width="1.25" fill="none"/>
<path d="M1335.6 414.1H1346.8M1341.2 408.5V419.7" stroke="#ee3a30" stroke-width="1.25" fill="none"/>
<path d="M1369.0 376.2H1380.2M1374.6 370.6V381.8" stroke="#ee3a30" stroke-width="1.25" fill="none"/>
<path d="M1402.4 310.1H1413.6M1408.0 304.5V315.7" stroke="#ee3a30" stroke-width="1.25" fill="none"/>
<path d="M1435.8 185.3H1447.0M1441.4 179.7V190.9" stroke="#ee3a30" stroke-width="1.25" fill="none"/>
<path d="M1469.3 156.4H1480.5M1474.9 150.8V162.0" stroke="#ee3a30" stroke-width="1.25" fill="none"/>
<path d="M1502.7 156.8H1513.9M1508.3 151.2V162.4" stroke="#ee3a30" stroke-width="1.25" fill="none"/>
<path d="M1536.1 161.5H1547.3M1541.7 155.9V167.1" stroke="#ee3a30" stroke-width="1.25" fill="none"/>
<path d="M1569.5 176.3H1580.7M1575.1 170.7V181.9" stroke="#ee3a30" stroke-width="1.25" fill="none"/>
<path d="M1602.9 176.3H1614.1M1608.5 170.7V181.9" stroke="#ee3a30" stroke-width="1.25" fill="none"/>
<path d="M1636.3 165.5H1647.5M1641.9 159.9V171.1" stroke="#ee3a30" stroke-width="1.25" fill="none"/>
<path d="M1669.7 161.5H1680.9M1675.3 155.9V167.1" stroke="#ee3a30" stroke-width="1.25" fill="none"/>
<path d="M1703.1 160.4H1714.3M1708.7 154.8V166.0" stroke="#ee3a30" stroke-width="1.25" fill="none"/>
<path d="M1736.5 164.5H1747.7M1742.1 158.9V170.1" stroke="#ee3a30" stroke-width="1.25" fill="none"/>
<polyline points="1174.2,462.5 1207.6,461.0 1241.0,457.2 1274.4,449.5 1307.8,438.1 1341.2,414.1 1374.6,373.9 1408.0,290.9 1441.4,195.1 1474.9,195.5 1508.3,195.1 1541.7,195.5 1575.1,197.5 1608.5,197.5 1641.9,203.8 1675.3,203.8 1708.7,197.5 1742.1,200.6" fill="none" stroke="#2f8a2f" stroke-width="1.25" stroke-linejoin="round"/>
<path d="M1168.6 456.9L1179.8 468.1M1168.6 468.1L1179.8 456.9" stroke="#2f8a2f" stroke-width="1.25" fill="none"/>
<path d="M1202.0 455.4L1213.2 466.6M1202.0 466.6L1213.2 455.4" stroke="#2f8a2f" stroke-width="1.25" fill="none"/>
<path d="M1235.4 451.6L1246.6 462.8M1235.4 462.8L1246.6 451.6" stroke="#2f8a2f" stroke-width="1.25" fill="none"/>
<path d="M1268.8 443.9L1280.0 455.1M1268.8 455.1L1280.0 443.9" stroke="#2f8a2f" stroke-width="1.25" fill="none"/>
<path d="M1302.2 432.5L1313.4 443.7M1302.2 443.7L1313.4 432.5" stroke="#2f8a2f" stroke-width="1.25" fill="none"/>
<path d="M1335.6 408.5L1346.8 419.7M1335.6 419.7L1346.8 408.5" stroke="#2f8a2f" stroke-width="1.25" fill="none"/>
<path d="M1369.0 368.3L1380.2 379.5M1369.0 379.5L1380.2 368.3" stroke="#2f8a2f" stroke-width="1.25" fill="none"/>
<path d="M1402.4 285.3L1413.6 296.5M1402.4 296.5L1413.6 285.3" stroke="#2f8a2f" stroke-width="1.25" fill="none"/>
<path d="M1435.8 189.5L1447.0 200.7M1435.8 200.7L1447.0 189.5" stroke="#2f8a2f" stroke-width="1.25" fill="none"/>
<path d="M1469.3 189.9L1480.5 201.1M1469.3 201.1L1480.5 189.9" stroke="#2f8a2f" stroke-width="1.25" fill="none"/>
<path d="M1502.7 189.5L1513.9 200.7M1502.7 200.7L1513.9 189.5" stroke="#2f8a2f" stroke-width="1.25" fill="none"/>
<path d="M1536.1 189.9L1547.3 201.1M1536.1 201.1L1547.3 189.9" stroke="#2f8a2f" stroke-width="1.25" fill="none"/>
<path d="M1569.5 191.9L1580.7 203.1M1569.5 203.1L1580.7 191.9" stroke="#2f8a2f" stroke-width="1.25" fill="none"/>
<path d="M1602.9 191.9L1614.1 203.1M1602.9 203.1L1614.1 191.9" stroke="#2f8a2f" stroke-width="1.25" fill="none"/>
<path d="M1636.3 198.2L1647.5 209.4M1636.3 209.4L1647.5 198.2" stroke="#2f8a2f" stroke-width="1.25" fill="none"/>
<path d="M1669.7 198.2L1680.9 209.4M1669.7 209.4L1680.9 198.2" stroke="#2f8a2f" stroke-width="1.25" fill="none"/>
<path d="M1703.1 191.9L1714.3 203.1M1703.1 203.1L1714.3 191.9" stroke="#2f8a2f" stroke-width="1.25" fill="none"/>
<path d="M1736.5 195.0L1747.7 206.2M1736.5 206.2L1747.7 195.0" stroke="#2f8a2f" stroke-width="1.25" fill="none"/>
<polyline points="1174.2,462.5 1207.6,461.8 1241.0,460.7 1274.4,455.7 1307.8,449.8 1341.2,436.6 1374.6,411.7 1408.0,372.1 1441.4,311.2 1474.9,243.5 1508.3,185.3 1541.7,156.0 1575.1,156.0 1608.5,166.6 1641.9,171.6 1675.3,161.5 1708.7,160.4 1742.1,168.0" fill="none" stroke="#1a1aff" stroke-width="1.25" stroke-linejoin="round"/>
<path d="M1168.6 462.5H1179.8M1174.2 456.9V468.1M1168.6 456.9L1179.8 468.1M1168.6 468.1L1179.8 456.9" stroke="#1a1aff" stroke-width="1.25" fill="none"/>
<path d="M1202.0 461.8H1213.2M1207.6 456.2V467.4M1202.0 456.2L1213.2 467.4M1202.0 467.4L1213.2 456.2" stroke="#1a1aff" stroke-width="1.25" fill="none"/>
<path d="M1235.4 460.7H1246.6M1241.0 455.1V466.3M1235.4 455.1L1246.6 466.3M1235.4 466.3L1246.6 455.1" stroke="#1a1aff" stroke-width="1.25" fill="none"/>
<path d="M1268.8 455.7H1280.0M1274.4 450.1V461.3M1268.8 450.1L1280.0 461.3M1268.8 461.3L1280.0 450.1" stroke="#1a1aff" stroke-width="1.25" fill="none"/>
<path d="M1302.2 449.8H1313.4M1307.8 444.2V455.4M1302.2 444.2L1313.4 455.4M1302.2 455.4L1313.4 444.2" stroke="#1a1aff" stroke-width="1.25" fill="none"/>
<path d="M1335.6 436.6H1346.8M1341.2 431.0V442.2M1335.6 431.0L1346.8 442.2M1335.6 442.2L1346.8 431.0" stroke="#1a1aff" stroke-width="1.25" fill="none"/>
<path d="M1369.0 411.7H1380.2M1374.6 406.1V417.3M1369.0 406.1L1380.2 417.3M1369.0 417.3L1380.2 406.1" stroke="#1a1aff" stroke-width="1.25" fill="none"/>
<path d="M1402.4 372.1H1413.6M1408.0 366.5V377.7M1402.4 366.5L1413.6 377.7M1402.4 377.7L1413.6 366.5" stroke="#1a1aff" stroke-width="1.25" fill="none"/>
<path d="M1435.8 311.2H1447.0M1441.4 305.6V316.8M1435.8 305.6L1447.0 316.8M1435.8 316.8L1447.0 305.6" stroke="#1a1aff" stroke-width="1.25" fill="none"/>
<path d="M1469.3 243.5H1480.5M1474.9 237.9V249.1M1469.3 237.9L1480.5 249.1M1469.3 249.1L1480.5 237.9" stroke="#1a1aff" stroke-width="1.25" fill="none"/>
<path d="M1502.7 185.3H1513.9M1508.3 179.7V190.9M1502.7 179.7L1513.9 190.9M1502.7 190.9L1513.9 179.7" stroke="#1a1aff" stroke-width="1.25" fill="none"/>
<path d="M1536.1 156.0H1547.3M1541.7 150.4V161.6M1536.1 150.4L1547.3 161.6M1536.1 161.6L1547.3 150.4" stroke="#1a1aff" stroke-width="1.25" fill="none"/>
<path d="M1569.5 156.0H1580.7M1575.1 150.4V161.6M1569.5 150.4L1580.7 161.6M1569.5 161.6L1580.7 150.4" stroke="#1a1aff" stroke-width="1.25" fill="none"/>
<path d="M1602.9 166.6H1614.1M1608.5 161.0V172.2M1602.9 161.0L1614.1 172.2M1602.9 172.2L1614.1 161.0" stroke="#1a1aff" stroke-width="1.25" fill="none"/>
<path d="M1636.3 171.6H1647.5M1641.9 166.0V177.2M1636.3 166.0L1647.5 177.2M1636.3 177.2L1647.5 166.0" stroke="#1a1aff" stroke-width="1.25" fill="none"/>
<path d="M1669.7 161.5H1680.9M1675.3 155.9V167.1M1669.7 155.9L1680.9 167.1M1669.7 167.1L1680.9 155.9" stroke="#1a1aff" stroke-width="1.25" fill="none"/>
<path d="M1703.1 160.4H1714.3M1708.7 154.8V166.0M1703.1 154.8L1714.3 166.0M1703.1 166.0L1714.3 154.8" stroke="#1a1aff" stroke-width="1.25" fill="none"/>
<path d="M1736.5 168.0H1747.7M1742.1 162.4V173.6M1736.5 162.4L1747.7 173.6M1736.5 173.6L1747.7 162.4" stroke="#1a1aff" stroke-width="1.25" fill="none"/>
<polyline points="1174.2,462.5 1207.6,461.8 1241.0,460.7 1274.4,455.7 1307.8,449.8 1341.2,436.6 1374.6,411.7 1408.0,372.1 1441.4,312.2 1474.9,243.5 1508.3,195.1 1541.7,199.1 1575.1,197.5 1608.5,197.5 1641.9,197.1 1675.3,196.7 1708.7,197.5 1742.1,209.7" fill="none" stroke="#f032f0" stroke-width="1.25" stroke-linejoin="round"/>
<rect x="1168.75" y="457.05" width="10.9" height="10.9" stroke="#f032f0" stroke-width="1.5" fill="none"/>
<rect x="1202.16" y="456.35" width="10.9" height="10.9" stroke="#f032f0" stroke-width="1.5" fill="none"/>
<rect x="1235.56" y="455.25" width="10.9" height="10.9" stroke="#f032f0" stroke-width="1.5" fill="none"/>
<rect x="1268.97" y="450.25" width="10.9" height="10.9" stroke="#f032f0" stroke-width="1.5" fill="none"/>
<rect x="1302.37" y="444.35" width="10.9" height="10.9" stroke="#f032f0" stroke-width="1.5" fill="none"/>
<rect x="1335.78" y="431.15" width="10.9" height="10.9" stroke="#f032f0" stroke-width="1.5" fill="none"/>
<rect x="1369.19" y="406.25" width="10.9" height="10.9" stroke="#f032f0" stroke-width="1.5" fill="none"/>
<rect x="1402.59" y="366.65" width="10.9" height="10.9" stroke="#f032f0" stroke-width="1.5" fill="none"/>
<rect x="1436.00" y="306.75" width="10.9" height="10.9" stroke="#f032f0" stroke-width="1.5" fill="none"/>
<rect x="1469.40" y="238.05" width="10.9" height="10.9" stroke="#f032f0" stroke-width="1.5" fill="none"/>
<rect x="1502.81" y="189.65" width="10.9" height="10.9" stroke="#f032f0" stroke-width="1.5" fill="none"/>
<rect x="1536.21" y="193.65" width="10.9" height="10.9" stroke="#f032f0" stroke-width="1.5" fill="none"/>
<rect x="1569.62" y="192.05" width="10.9" height="10.9" stroke="#f032f0" stroke-width="1.5" fill="none"/>
<rect x="1603.03" y="192.05" width="10.9" height="10.9" stroke="#f032f0" stroke-width="1.5" fill="none"/>
<rect x="1636.43" y="191.65" width="10.9" height="10.9" stroke="#f032f0" stroke-width="1.5" fill="none"/>
<rect x="1669.84" y="191.25" width="10.9" height="10.9" stroke="#f032f0" stroke-width="1.5" fill="none"/>
<rect x="1703.24" y="192.05" width="10.9" height="10.9" stroke="#f032f0" stroke-width="1.5" fill="none"/>
<rect x="1736.65" y="204.25" width="10.9" height="10.9" stroke="#f032f0" stroke-width="1.5" fill="none"/>
<path d="M1194.7 115.2H1247.2" stroke="#ee3a30" stroke-width="1.25"/>
<path d="M1215.4 115.2H1226.5M1221.0 109.6V120.8" stroke="#ee3a30" stroke-width="1.25" fill="none"/>
<text x="1258.2" y="120.6" text-anchor="start" font-size="17.4" >H-H</text>
<path d="M1194.7 131.6H1247.2" stroke="#2f8a2f" stroke-width="1.25"/>
<path d="M1215.4 126.0L1226.5 137.2M1215.4 137.2L1226.5 126.0" stroke="#2f8a2f" stroke-width="1.25" fill="none"/>
<text x="1258.2" y="137.0" text-anchor="start" font-size="17.4" >H-G</text>
<path d="M1194.7 148.4H1247.2" stroke="#1a1aff" stroke-width="1.25"/>
<path d="M1215.4 148.4H1226.5M1221.0 142.8V154.0M1215.4 142.8L1226.5 154.0M1215.4 154.0L1226.5 142.8" stroke="#1a1aff" stroke-width="1.25" fill="none"/>
<text x="1258.2" y="153.8" text-anchor="start" font-size="17.4" >G-H</text>
<path d="M1194.7 165.1H1247.2" stroke="#f032f0" stroke-width="1.25"/>
<rect x="1215.50" y="159.65" width="10.9" height="10.9" stroke="#f032f0" stroke-width="1.5" fill="none"/>
<text x="1258.2" y="170.5" text-anchor="start" font-size="17.4" >G-G</text>
<rect x="1174.2" y="784.2" width="567.8999999999999" height="363.5" fill="none" stroke="#222222" stroke-width="1.85"/>
<path d="M1241.0 1147.7v-6.3M1241.0 784.2v6.3M1307.8 1147.7v-6.3M1307.8 784.2v6.3M1374.6 1147.7v-6.3M1374.6 784.2v6.3M1441.4 1147.7v-6.3M1441.4 784.2v6.3M1508.3 1147.7v-6.3M1508.3 784.2v6.3M1575.1 1147.7v-6.3M1575.1 784.2v6.3M1641.9 1147.7v-6.3M1641.9 784.2v6.3M1708.7 1147.7v-6.3M1708.7 784.2v6.3M1174.2 1095.8h6.3M1742.1 1095.8h-6.3M1174.2 1043.8h6.3M1742.1 1043.8h-6.3M1174.2 991.9h6.3M1742.1 991.9h-6.3M1174.2 940.0h6.3M1742.1 940.0h-6.3M1174.2 888.1h6.3M1742.1 888.1h-6.3M1174.2 836.1h6.3M1742.1 836.1h-6.3" stroke="#303030" stroke-width="1.25" fill="none"/>
<text x="1176.0" y="1169.9" text-anchor="middle" font-size="17.4" >32</text>
<text x="1242.8" y="1169.9" text-anchor="middle" font-size="17.4" >128</text>
<text x="1309.6" y="1169.9" text-anchor="middle" font-size="17.4" >512</text>
<text x="1374.6" y="1169.9" text-anchor="middle" font-size="17.4" >2K</text>
<text x="1441.4" y="1169.9" text-anchor="middle" font-size="17.4" >8K</text>
<text x="1508.3" y="1169.9" text-anchor="middle" font-size="17.4" >32K</text>
<text x="1575.1" y="1169.9" text-anchor="middle" font-size="17.4" >128K</text>
<text x="1641.9" y="1169.9" text-anchor="middle" font-size="17.4" >512K</text>
<text x="1708.7" y="1169.9" text-anchor="middle" font-size="17.4" >2M</text>
<text x="1163.8" y="1153.5" text-anchor="end" font-size="17.4" >0</text>
<text x="1163.8" y="1101.6" text-anchor="end" font-size="17.4" >500</text>
<text x="1163.8" y="1049.7" text-anchor="end" font-size="17.4" >1000</text>
<text x="1163.8" y="997.8" text-anchor="end" font-size="17.4" >1500</text>
<text x="1163.8" y="945.8" text-anchor="end" font-size="17.4" >2000</text>
<text x="1163.8" y="893.9" text-anchor="end" font-size="17.4" >2500</text>
<text x="1163.8" y="842.0" text-anchor="end" font-size="17.4" >3000</text>
<text x="1163.8" y="790.1" text-anchor="end" font-size="17.4" >3500</text>
<text x="1458.2" y="765.2" text-anchor="middle" font-size="17.4" >APEnet+ VS InfiniBand -- G-G Bandwidth</text>
<text x="1458.2" y="1195.2" text-anchor="middle" font-size="17.4" >Message size (32B-4MB)</text>
<text transform="translate(1098.5,966.0) rotate(-90)" text-anchor="middle" font-size="17.4">Bandwidth (MB/s)</text>
<polyline points="1174.2,1147.3 1207.6,1147.2 1241.0,1146.0 1274.4,1144.2 1307.8,1141.5 1341.2,1136.0 1374.6,1126.8 1408.0,1111.2 1441.4,1086.5 1474.9,1059.5 1508.3,1039.8 1541.7,1041.4 1575.1,1041.0 1608.5,1041.0 1641.9,1041.0 1675.3,1041.0 1708.7,1041.4 1742.1,1046.0" fill="none" stroke="#ee3a30" stroke-width="1.25" stroke-linejoin="round"/>
<path d="M1168.6 1147.3H1179.8M1174.2 1141.7V1152.9" stroke="#ee3a30" stroke-width="1.25" fill="none"/>
<path d="M1202.0 1147.2H1213.2M1207.6 1141.6V1152.8" stroke="#ee3a30" stroke-width="1.25" fill="none"/>
<path d="M1235.4 1146.0H1246.6M1241.0 1140.4V1151.6" stroke="#ee3a30" stroke-width="1.25" fill="none"/>
<path d="M1268.8 1144.2H1280.0M1274.4 1138.6V1149.8" stroke="#ee3a30" stroke-width="1.25" fill="none"/>
<path d="M1302.2 1141.5H1313.4M1307.8 1135.9V1147.1" stroke="#ee3a30" stroke-width="1.25" fill="none"/>
<path d="M1335.6 1136.0H1346.8M1341.2 1130.4V1141.6" stroke="#ee3a30" stroke-width="1.25" fill="none"/>
<path d="M1369.0 1126.8H1380.2M1374.6 1121.2V1132.4" stroke="#ee3a30" stroke-width="1.25" fill="none"/>
<path d="M1402.4 1111.2H1413.6M1408.0 1105.6V1116.8" stroke="#ee3a30" stroke-width="1.25" fill="none"/>
<path d="M1435.8 1086.5H1447.0M1441.4 1080.9V1092.1" stroke="#ee3a30" stroke-width="1.25" fill="none"/>
<path d="M1469.3 1059.5H1480.5M1474.9 1053.9V1065.1" stroke="#ee3a30" stroke-width="1.25" fill="none"/>
<path d="M1502.7 1039.8H1513.9M1508.3 1034.2V1045.4" stroke="#ee3a30" stroke-width="1.25" fill="none"/>
<path d="M1536.1 1041.4H1547.3M1541.7 1035.8V1047.0" stroke="#ee3a30" stroke-width="1.25" fill="none"/>
<path d="M1569.5 1041.0H1580.7M1575.1 1035.4V1046.6" stroke="#ee3a30" stroke-width="1.25" fill="none"/>
<path d="M1602.9 1041.0H1614.1M1608.5 1035.4V1046.6" stroke="#ee3a30" stroke-width="1.25" fill="none"/>
<path d="M1636.3 1041.0H1647.5M1641.9 1035.4V1046.6" stroke="#ee3a30" stroke-width="1.25" fill="none"/>
<path d="M1669.7 1041.0H1680.9M1675.3 1035.4V1046.6" stroke="#ee3a30" stroke-width="1.25" fill="none"/>
<path d="M1703.1 1041.4H1714.3M1708.7 1035.8V1047.0" stroke="#ee3a30" stroke-width="1.25" fill="none"/>
<path d="M1736.5 1046.0H1747.7M1742.1 1040.4V1051.6" stroke="#ee3a30" stroke-width="1.25" fill="none"/>
<polyline points="1174.2,1147.5 1207.6,1147.3 1241.0,1146.8 1274.4,1145.5 1307.8,1143.8 1341.2,1140.5 1374.6,1133.2 1408.0,1121.3 1441.4,1103.0 1474.9,1073.6 1508.3,929.6 1541.7,856.5 1575.1,833.7 1608.5,827.5 1641.9,823.7 1675.3,821.5 1708.7,820.7 1742.1,820.1" fill="none" stroke="#2f8a2f" stroke-width="1.25" stroke-linejoin="round"/>
<path d="M1168.6 1141.9L1179.8 1153.1M1168.6 1153.1L1179.8 1141.9" stroke="#2f8a2f" stroke-width="1.25" fill="none"/>
<path d="M1202.0 1141.7L1213.2 1152.9M1202.0 1152.9L1213.2 1141.7" stroke="#2f8a2f" stroke-width="1.25" fill="none"/>
<path d="M1235.4 1141.2L1246.6 1152.4M1235.4 1152.4L1246.6 1141.2" stroke="#2f8a2f" stroke-width="1.25" fill="none"/>
<path d="M1268.8 1139.9L1280.0 1151.1M1268.8 1151.1L1280.0 1139.9" stroke="#2f8a2f" stroke-width="1.25" fill="none"/>
<path d="M1302.2 1138.2L1313.4 1149.4M1302.2 1149.4L1313.4 1138.2" stroke="#2f8a2f" stroke-width="1.25" fill="none"/>
<path d="M1335.6 1134.9L1346.8 1146.1M1335.6 1146.1L1346.8 1134.9" stroke="#2f8a2f" stroke-width="1.25" fill="none"/>
<path d="M1369.0 1127.6L1380.2 1138.8M1369.0 1138.8L1380.2 1127.6" stroke="#2f8a2f" stroke-width="1.25" fill="none"/>
<path d="M1402.4 1115.7L1413.6 1126.9M1402.4 1126.9L1413.6 1115.7" stroke="#2f8a2f" stroke-width="1.25" fill="none"/>
<path d="M1435.8 1097.4L1447.0 1108.6M1435.8 1108.6L1447.0 1097.4" stroke="#2f8a2f" stroke-width="1.25" fill="none"/>
<path d="M1469.3 1068.0L1480.5 1079.2M1469.3 1079.2L1480.5 1068.0" stroke="#2f8a2f" stroke-width="1.25" fill="none"/>
<path d="M1502.7 924.0L1513.9 935.2M1502.7 935.2L1513.9 924.0" stroke="#2f8a2f" stroke-width="1.25" fill="none"/>
<path d="M1536.1 850.9L1547.3 862.1M1536.1 862.1L1547.3 850.9" stroke="#2f8a2f" stroke-width="1.25" fill="none"/>
<path d="M1569.5 828.1L1580.7 839.3M1569.5 839.3L1580.7 828.1" stroke="#2f8a2f" stroke-width="1.25" fill="none"/>
<path d="M1602.9 821.9L1614.1 833.1M1602.9 833.1L1614.1 821.9" stroke="#2f8a2f" stroke-width="1.25" fill="none"/>
<path d="M1636.3 818.1L1647.5 829.3M1636.3 829.3L1647.5 818.1" stroke="#2f8a2f" stroke-width="1.25" fill="none"/>
<path d="M1669.7 815.9L1680.9 827.1M1669.7 827.1L1680.9 815.9" stroke="#2f8a2f" stroke-width="1.25" fill="none"/>
<path d="M1703.1 815.1L1714.3 826.3M1703.1 826.3L1714.3 815.1" stroke="#2f8a2f" stroke-width="1.25" fill="none"/>
<path d="M1736.5 814.5L1747.7 825.7M1736.5 825.7L1747.7 814.5" stroke="#2f8a2f" stroke-width="1.25" fill="none"/>
<polyline points="1174.2,1147.5 1207.6,1147.3 1241.0,1146.8 1274.4,1145.8 1307.8,1144.2 1341.2,1141.5 1374.6,1136.0 1408.0,1125.0 1441.4,1107.2 1474.9,1081.9 1508.3,1047.5 1541.7,1024.4 1575.1,1024.4 1608.5,1024.4 1641.9,1028.0 1675.3,1039.0 1708.7,1044.4 1742.1,1047.4" fill="none" stroke="#1a1aff" stroke-width="1.25" stroke-linejoin="round"/>
<path d="M1168.6 1147.5H1179.8M1174.2 1141.9V1153.1M1168.6 1141.9L1179.8 1153.1M1168.6 1153.1L1179.8 1141.9" stroke="#1a1aff" stroke-width="1.25" fill="none"/>
<path d="M1202.0 1147.3H1213.2M1207.6 1141.7V1152.9M1202.0 1141.7L1213.2 1152.9M1202.0 1152.9L1213.2 1141.7" stroke="#1a1aff" stroke-width="1.25" fill="none"/>
<path d="M1235.4 1146.8H1246.6M1241.0 1141.2V1152.4M1235.4 1141.2L1246.6 1152.4M1235.4 1152.4L1246.6 1141.2" stroke="#1a1aff" stroke-width="1.25" fill="none"/>
<path d="M1268.8 1145.8H1280.0M1274.4 1140.2V1151.4M1268.8 1140.2L1280.0 1151.4M1268.8 1151.4L1280.0 1140.2" stroke="#1a1aff" stroke-width="1.25" fill="none"/>
<path d="M1302.2 1144.2H1313.4M1307.8 1138.6V1149.8M1302.2 1138.6L1313.4 1149.8M1302.2 1149.8L1313.4 1138.6" stroke="#1a1aff" stroke-width="1.25" fill="none"/>
<path d="M1335.6 1141.5H1346.8M1341.2 1135.9V1147.1M1335.6 1135.9L1346.8 1147.1M1335.6 1147.1L1346.8 1135.9" stroke="#1a1aff" stroke-width="1.25" fill="none"/>
<path d="M1369.0 1136.0H1380.2M1374.6 1130.4V1141.6M1369.0 1130.4L1380.2 1141.6M1369.0 1141.6L1380.2 1130.4" stroke="#1a1aff" stroke-width="1.25" fill="none"/>
<path d="M1402.4 1125.0H1413.6M1408.0 1119.4V1130.6M1402.4 1119.4L1413.6 1130.6M1402.4 1130.6L1413.6 1119.4" stroke="#1a1aff" stroke-width="1.25" fill="none"/>
<path d="M1435.8 1107.2H1447.0M1441.4 1101.6V1112.8M1435.8 1101.6L1447.0 1112.8M1435.8 1112.8L1447.0 1101.6" stroke="#1a1aff" stroke-width="1.25" fill="none"/>
<path d="M1469.3 1081.9H1480.5M1474.9 1076.3V1087.5M1469.3 1076.3L1480.5 1087.5M1469.3 1087.5L1480.5 1076.3" stroke="#1a1aff" stroke-width="1.25" fill="none"/>
<path d="M1502.7 1047.5H1513.9M1508.3 1041.9V1053.1M1502.7 1041.9L1513.9 1053.1M1502.7 1053.1L1513.9 1041.9" stroke="#1a1aff" stroke-width="1.25" fill="none"/>
<path d="M1536.1 1024.4H1547.3M1541.7 1018.8V1030.0M1536.1 1018.8L1547.3 1030.0M1536.1 1030.0L1547.3 1018.8" stroke="#1a1aff" stroke-width="1.25" fill="none"/>
<path d="M1569.5 1024.4H1580.7M1575.1 1018.8V1030.0M1569.5 1018.8L1580.7 1030.0M1569.5 1030.0L1580.7 1018.8" stroke="#1a1aff" stroke-width="1.25" fill="none"/>
<path d="M1602.9 1024.4H1614.1M1608.5 1018.8V1030.0M1602.9 1018.8L1614.1 1030.0M1602.9 1030.0L1614.1 1018.8" stroke="#1a1aff" stroke-width="1.25" fill="none"/>
<path d="M1636.3 1028.0H1647.5M1641.9 1022.4V1033.6M1636.3 1022.4L1647.5 1033.6M1636.3 1033.6L1647.5 1022.4" stroke="#1a1aff" stroke-width="1.25" fill="none"/>
<path d="M1669.7 1039.0H1680.9M1675.3 1033.4V1044.6M1669.7 1033.4L1680.9 1044.6M1669.7 1044.6L1680.9 1033.4" stroke="#1a1aff" stroke-width="1.25" fill="none"/>
<path d="M1703.1 1044.4H1714.3M1708.7 1038.8V1050.0M1703.1 1038.8L1714.3 1050.0M1703.1 1050.0L1714.3 1038.8" stroke="#1a1aff" stroke-width="1.25" fill="none"/>
<path d="M1736.5 1047.4H1747.7M1742.1 1041.8V1053.0M1736.5 1041.8L1747.7 1053.0M1736.5 1053.0L1747.7 1041.8" stroke="#1a1aff" stroke-width="1.25" fill="none"/>
<path d="M1194.7 798.3H1247.2" stroke="#ee3a30" stroke-width="1.25"/>
<path d="M1215.4 798.3H1226.5M1221.0 792.7V803.9" stroke="#ee3a30" stroke-width="1.25" fill="none"/>
<text x="1258.2" y="803.7" text-anchor="start" font-size="17.4" >G-G APEnet+ P2P=ON</text>
<path d="M1194.7 815.0H1247.2" stroke="#2f8a2f" stroke-width="1.25"/>
<path d="M1215.4 809.4L1226.5 820.6M1215.4 820.6L1226.5 809.4" stroke="#2f8a2f" stroke-width="1.25" fill="none"/>
<text x="1258.2" y="820.4" text-anchor="start" font-size="17.4" >G-G IB MVAPICH v1.9a2</text>
<path d="M1194.7 831.8H1247.2" stroke="#1a1aff" stroke-width="1.25"/>
<path d="M1215.4 831.8H1226.5M1221.0 826.2V837.4M1215.4 826.2L1226.5 837.4M1215.4 837.4L1226.5 826.2" stroke="#1a1aff" stroke-width="1.25" fill="none"/>
<text x="1258.2" y="837.2" text-anchor="start" font-size="17.4" >G-G APEnet+ P2P=OFF</text>
</svg>
<div class="ln" id="l0" style="left:128.5px;top:542.20px;word-spacing:4.719px"><b>Fig. 4.</b> Single-node GPU memory reading bandwidth, showing the</div>
<div class="ln" id="l1" style="left:128.5px;top:573.64px;word-spacing:1.068px">performance at varying message size, obtained by flushing TX injec-</div>
<div class="ln" id="l2" style="left:128.5px;top:605.08px;word-spacing:1.814px">tion FIFOs. Different curves corresponds to the three <tt class="a">GPU_P2P_TX</tt></div>
<div class="ln" id="l3" style="left:128.5px;top:636.52px;word-spacing:10.087px">implementations and to different pre-fetch window sizes, where</div>
<div class="ln" id="l4" style="left:128.5px;top:667.96px;word-spacing:6.750px">appropriate. Plots are not smooth for small message sizes due to</div>
<div class="ln" id="l5" style="left:128.5px;top:699.40px;word-spacing:2.336px">software related issues under queue-full conditions.</div>
<div class="ln" id="l6" style="left:997.5px;top:542.20px;word-spacing:2.652px"><b>Fig. 6.</b> Two-nodes uni-directional bandwidth test, for different com-</div>
<div class="ln" id="l7" style="left:997.5px;top:573.64px;word-spacing:3.234px">binations of both the source and the destination buffer types. When</div>
<div class="ln" id="l8" style="left:997.5px;top:605.08px;word-spacing:8.108px">source is in GPU memory, the overhead is visible; at 8KB, the</div>
<div class="ln" id="l9" style="left:997.5px;top:636.52px;word-spacing:-0.487px">bandwidth is almost half that in the host memory case. The bandwidth</div>
<div class="ln" id="l10" style="left:997.5px;top:667.96px;word-spacing:2.186px">cap is related to the limited processing capabilities of the <tt class="b">Nios II</tt></div>
<div class="ln" id="l11" style="left:997.5px;top:699.40px;word-spacing:0.000px">micro-controller.</div>
<div class="ln" id="l12" style="left:128.5px;top:1225.20px;word-spacing:4.104px"><b>Fig. 5.</b> Single-node GPU memory loop-back bandwidth, at varying</div>
<div class="ln" id="l13" style="left:128.5px;top:1256.64px;word-spacing:3.852px">pre-fetch threshold size. Different curves are as in the the previous</div>
<div class="ln" id="l14" style="left:128.5px;top:1288.08px;word-spacing:-0.043px">plot. The full loop-back send-and-receive bandwidth is plotted, which</div>
<div class="ln" id="l15" style="left:128.5px;top:1319.52px;word-spacing:2.645px">is limited by the <tt class="b">Nios II</tt> micro-controller processing capabilities.</div>
<div class="ln" id="l16" style="left:997.5px;top:1225.20px;word-spacing:10.714px"><b>Fig. 7.</b> Two-nodes uni-directional bandwidth test, GPU-to-GPU.</div>
<div class="ln" id="l17" style="left:997.5px;top:1256.64px;word-spacing:5.423px">P2P=OFF case corresponds to the use of staging in host memory.</div>
<div class="ln" id="l18" style="left:997.5px;top:1288.08px;word-spacing:2.606px">MVAPICH2 result on OSU MPI bandwidth test is for reference.</div>
</body></html>
